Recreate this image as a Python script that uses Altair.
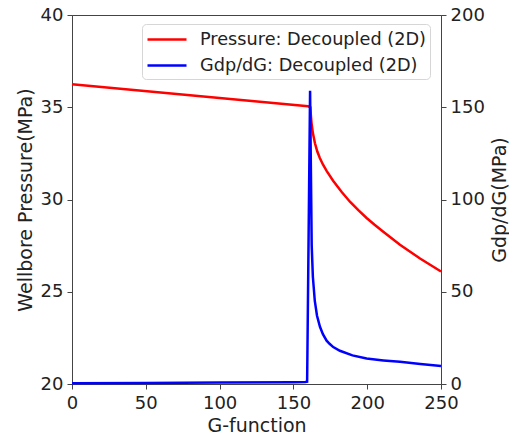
import altair as alt
import pandas as pd

# Pressure: Decoupled (2D)
p_x = [0, 40, 80, 120, 160, 161.5, 161.8, 162.3, 163.2, 164.6, 166.2, 167.9, 170, 172.5, 176.9, 182.6, 188.3, 194, 199.6, 205, 210.9, 222.2, 235.8, 250]
p_y = [36.25, 35.95, 35.65, 35.35, 35.05, 35.0, 34.6, 34.13, 33.6, 33.05, 32.6, 32.25, 31.9, 31.55, 31.02, 30.42, 29.88, 29.42, 29.0, 28.63, 28.25, 27.55, 26.8, 26.1]

# Gdp/dG: Decoupled (2D)
g_x = [0, 50, 100, 150, 158, 159.3, 161.3, 161.8, 162.4, 163.2, 164.5, 166, 168, 170, 172.5, 174.5, 177, 181.5, 190, 199.6, 211, 222.2, 236, 250]
g_y = [0.4, 0.6, 0.8, 1.0, 1.1, 1.3, 159, 120, 75, 58, 45, 37, 31, 27, 23.5, 21.8, 20, 18, 15.5, 13.8, 12.8, 12.0, 10.9, 9.8]

series = ["Pressure: Decoupled (2D)", "Gdp/dG: Decoupled (2D)"]
colors = ["#ff0000", "#0000ff"]

df_p = pd.DataFrame({"x": p_x, "y": p_y, "s": series[0], "o": range(len(p_x))})
df_g = pd.DataFrame({"x": g_x, "y": g_y, "s": series[1], "o": range(len(g_x))})

FONT = "DejaVu Sans"
xscale = alt.Scale(domain=[0, 250], nice=False, zero=False)
color = alt.Color(
    "s:N",
    scale=alt.Scale(domain=series, range=colors),
    legend=alt.Legend(
        title=None, orient="none", legendX=70, legendY=9,
        symbolType="M-1,0L2.9,0", symbolSize=400, symbolStrokeWidth=2.5,
        labelFont=FONT, labelFontSize=17.7, labelColor="#222",
        labelOffset=31, rowPadding=5, padding=4,
        strokeColor="#d6d6d6", fillColor="white", cornerRadius=4,
        labelLimit=400,
    ),
)

axis_common = dict(
    labelFont=FONT, labelFontSize=18, labelColor="#222", labelFlush=False,
    titleFont=FONT, titleFontSize=19, titleColor="#222", titleFontWeight="normal",
    domainColor="#444", tickColor="#444", tickSize=5, grid=False,
)

x_enc = alt.X("x:Q", scale=xscale,
              axis=alt.Axis(title="G-function", values=[0, 50, 100, 150, 200, 250],
                            labelPadding=5, titlePadding=4, **axis_common))

pressure = alt.Chart(df_p).mark_line(strokeWidth=2.5).encode(
    x=x_enc,
    y=alt.Y("y:Q", scale=alt.Scale(domain=[20, 40], nice=False, zero=False),
            axis=alt.Axis(title="Wellbore Pressure(MPa)", values=[20, 25, 30, 35, 40],
                          labelPadding=4, titleAngle=270, titleX=-47, titleY=184.5,
                          titleAlign="center", titleBaseline="middle", **axis_common)),
    color=color,
    order="o:Q",
)

gdp = alt.Chart(df_g).mark_line(strokeWidth=2.5).encode(
    x=x_enc,
    y=alt.Y("y:Q", scale=alt.Scale(domain=[0, 200], nice=False, zero=False),
            axis=alt.Axis(title="Gdp/dG(MPa)", orient="right", values=[0, 50, 100, 150, 200],
                          labelPadding=4, titleAngle=270, titleX=58, titleY=184.5,
                          titleAlign="center", titleBaseline="middle", **axis_common)),
    color=color,
    order="o:Q",
)

chart = alt.layer(pressure, gdp).resolve_scale(y="independent").properties(
    width=369, height=369,
    autosize=alt.AutoSizeParams(type="none"),
    padding={"left": 72, "top": 15, "right": 68, "bottom": 55},
    background="white",
).configure_view(stroke="#444", strokeWidth=1)

chart.save("out.html", embed_options={"renderer": "svg", "actions": False})
